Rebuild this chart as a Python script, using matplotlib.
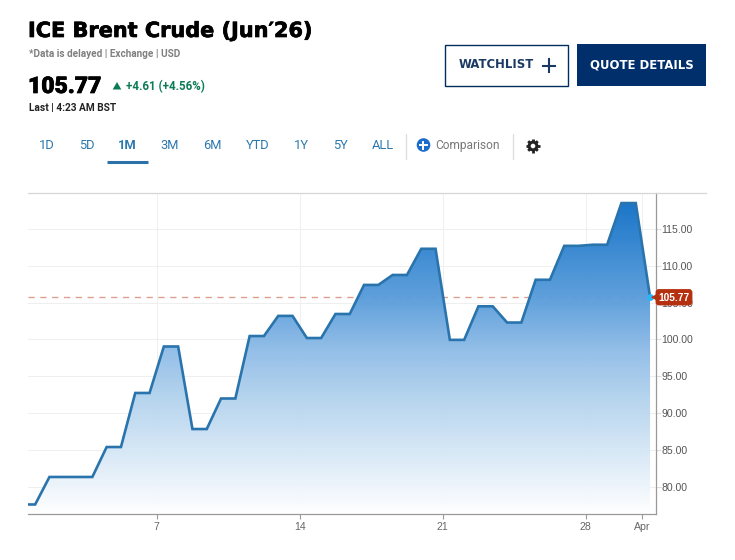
import numpy as np
import matplotlib
matplotlib.use("Agg")
import matplotlib.pyplot as plt
import matplotlib.patheffects as pe
from matplotlib.patches import Rectangle, FancyBboxPatch, Circle, RegularPolygon
from matplotlib.colors import LinearSegmentedColormap

# ---- data ----
prices = [77.63, 77.63, 81.36, 81.36, 81.36, 81.36, 85.42, 85.42, 92.75, 92.75, 99.05, 99.05,
          87.86, 87.86, 92.0, 92.0, 100.47, 100.47, 103.2, 103.2, 100.2, 100.2, 103.46, 103.46,
          107.4, 107.4, 108.75, 108.75, 112.3, 112.3, 99.95, 99.95, 104.5, 104.5, 102.3, 102.3,
          108.1, 108.1, 112.7, 112.7, 112.85, 112.85, 118.5, 118.5, 105.77]
sessions = list(range(len(prices)))
last_price = 105.77
y_ticks = [80, 85, 90, 95, 100, 105, 110, 115]
x_tick_pos = [9.5, 19.5, 29.5, 39.5, 43.45]
x_tick_labels = ["7", "14", "21", "28", "Apr"]
ranges = ["1D", "5D", "1M", "3M", "6M", "YTD", "1Y", "5Y", "ALL"]
range_x = [47, 87, 127.5, 170, 212, 258, 301, 340, 383]

W, H = 735, 560
fig = plt.figure(figsize=(W / 100, H / 100), dpi=100, facecolor="white")
plt.rcParams["font.family"] = ["Roboto", "DejaVu Sans"]

L, R, T, B = 28, 656, 193, 514
ax = fig.add_axes([L / W, 1 - B / H, (R - L) / W, (B - T) / H])
PX_PER_UNIT = 7.375
ax.set_ylim(80 - (B - 487) / PX_PER_UNIT, 80 + (487 - T) / PX_PER_UNIT)
ax.set_xlim(0.5, 0.5 + (R - L) / 14.3)

ax.set_yticks(y_ticks)
ax.set_yticklabels([f"{t:.2f}" for t in y_ticks], fontsize=7.6, color="#555555", family="Liberation Sans")
ax.yaxis.tick_right()
ax.set_xticks(x_tick_pos)
ax.set_xticklabels(x_tick_labels, fontsize=7.6, color="#666666", family="Liberation Sans")
ax.tick_params(axis="y", length=3.5, width=0.8, color="#dddddd", pad=0.5)
ax.tick_params(axis="x", length=3.5, width=0.8, color="#999999", pad=2.5)
ax.grid(True, color="#efefef", lw=0.7)
ax.set_axisbelow(True)
for s in ("left", "top"):
    ax.spines[s].set_visible(False)
for s in ("right", "bottom"):
    ax.spines[s].set_color("#999999")
    ax.spines[s].set_linewidth(0.9)

# reference line under the fill
ax.axhline(last_price, color="#dd9f90", lw=1.0, ls=(0, (4.5, 4)), zorder=1.5)

# gradient area
cmap = LinearSegmentedColormap.from_list(
    "g", [(0, "#ffffff"), (0.37, "#b3d3ee"), (0.51, "#94bfe8"), (0.69, "#5a9ddb"), (1, "#1170c6")])
poly = ax.fill_between(sessions, prices, ax.get_ylim()[0], color="none", lw=0)
grad = np.linspace(0, 1, 256).reshape(-1, 1)
x0, x1 = ax.get_xlim()
y0, y1 = ax.get_ylim()
im = ax.imshow(grad, extent=[x0, x1, y0, 118.5], origin="lower", aspect="auto",
               cmap=cmap, zorder=2, alpha=0.96)
im.set_clip_path(poly.get_paths()[0], transform=ax.transData)
ax.set_xlim(x0, x1)
ax.set_ylim(y0, y1)

ax.plot(sessions, prices, color="#2a74ad", lw=1.9, zorder=3, solid_joinstyle="miter")
ax.scatter([sessions[-1]], [last_price], s=24, color="#29b6f6", linewidths=0, zorder=4, clip_on=False)

# ---- page overlay in pixel coordinates ----
ov = fig.add_axes([0, 0, 1, 1], zorder=10)
ov.set_xlim(0, W)
ov.set_ylim(H, 0)
ov.axis("off")

ov.plot([L, 706], [T, T], color="#d6d6d6", lw=0.9)

# price tag
ov.add_patch(FancyBboxPatch((656, 289.5), 36, 15.5, boxstyle="round,pad=0,rounding_size=3", fc="#b5300f", ec="#b5300f", lw=0.6))
ov.add_patch(RegularPolygon((657.5, 297.3), 3, radius=6.5, orientation=np.pi / 2, fc="#b5300f", ec="none"))
ov.text(674.5, 297.6, f"{last_price:.2f}", color="white", fontsize=7.4, fontweight="bold", ha="center", va="center", family="Liberation Sans")

heavy = [pe.withStroke(linewidth=0.5, foreground="black")]
ov.text(28, 31, "ICE Brent Crude (Jun\u203226)", fontsize=15.0, fontweight="bold", color="black", va="center",
        family="DejaVu Sans", path_effects=heavy)
ov.text(29, 54, "*Data is delayed | Exchange | USD", fontsize=7.2, fontweight="bold", color="#808080", va="center")
ov.text(28, 86.5, "105.77", fontsize=16.5, fontweight="black", color="black", va="center", path_effects=heavy)
ov.add_patch(RegularPolygon((117, 87), 3, radius=5, orientation=np.pi, fc="#0c7b55", ec="none"))
ov.text(126, 86.5, "+4.61 (+4.56%)", fontsize=8.3, fontweight="bold", color="#0c7b55", va="center")
ov.text(29, 107.5, "Last | 4:23 AM BST", fontsize=7.3, fontweight="bold", color="#222222", va="center")

ov.add_patch(Rectangle((445.5, 44.5), 123, 41, fc="white", ec="#002f5f", lw=1))
ov.text(459, 65, "WATCHLIST", fontsize=8.4, fontweight="bold", color="#1b3a63", va="center", family="DejaVu Sans")
ov.plot([549, 549], [59, 72], color="#1b3a63", lw=1.5)
ov.plot([543, 555.5], [65.5, 65.5], color="#1b3a63", lw=1.5)
ov.add_patch(Rectangle((577, 44), 129, 42, fc="#002f6c", ec="none"))
ov.text(641.5, 65, "QUOTE DETAILS", fontsize=8.4, fontweight="bold", color="white", va="center", ha="center", family="DejaVu Sans")

for name, x in zip(ranges, range_x):
    active = name == "1M"
    ov.text(x, 145.5, name, fontsize=9.3, color="#2b78ad", ha="center", va="center",
            fontweight="bold" if active else "normal")
ov.plot([107, 148], [162, 162], color="#2b72a8", lw=2.2, solid_capstyle="butt")
for x in (406.5, 513.5):
    ov.plot([x, x], [134, 159], color="#dddddd", lw=0.9)
ov.add_patch(Circle((423.5, 145), 6.8, fc="#1c6ccb", ec="none"))
ov.plot([420, 427], [145, 145], color="white", lw=1.4)
ov.plot([423.5, 423.5], [141.5, 148.5], color="white", lw=1.4)
ov.text(435, 145, "Comparison", fontsize=8.6, color="#777777", va="center")

# settings gear
cx, cy = 533, 146
ov.add_patch(Circle((cx, cy), 3.9, fc="none", ec="#222222", lw=2.1))
for ang in np.arange(0, np.pi, np.pi / 4):
    dx, dy = 6.8 * np.cos(ang), 6.8 * np.sin(ang)
    ov.plot([cx - dx, cx + dx], [cy - dy, cy + dy], color="#222222", lw=2.0, solid_capstyle="butt", zorder=1)
ov.add_patch(Circle((cx, cy), 2.3, fc="white", ec="none", zorder=3))

fig.savefig("out.png", dpi=100)
